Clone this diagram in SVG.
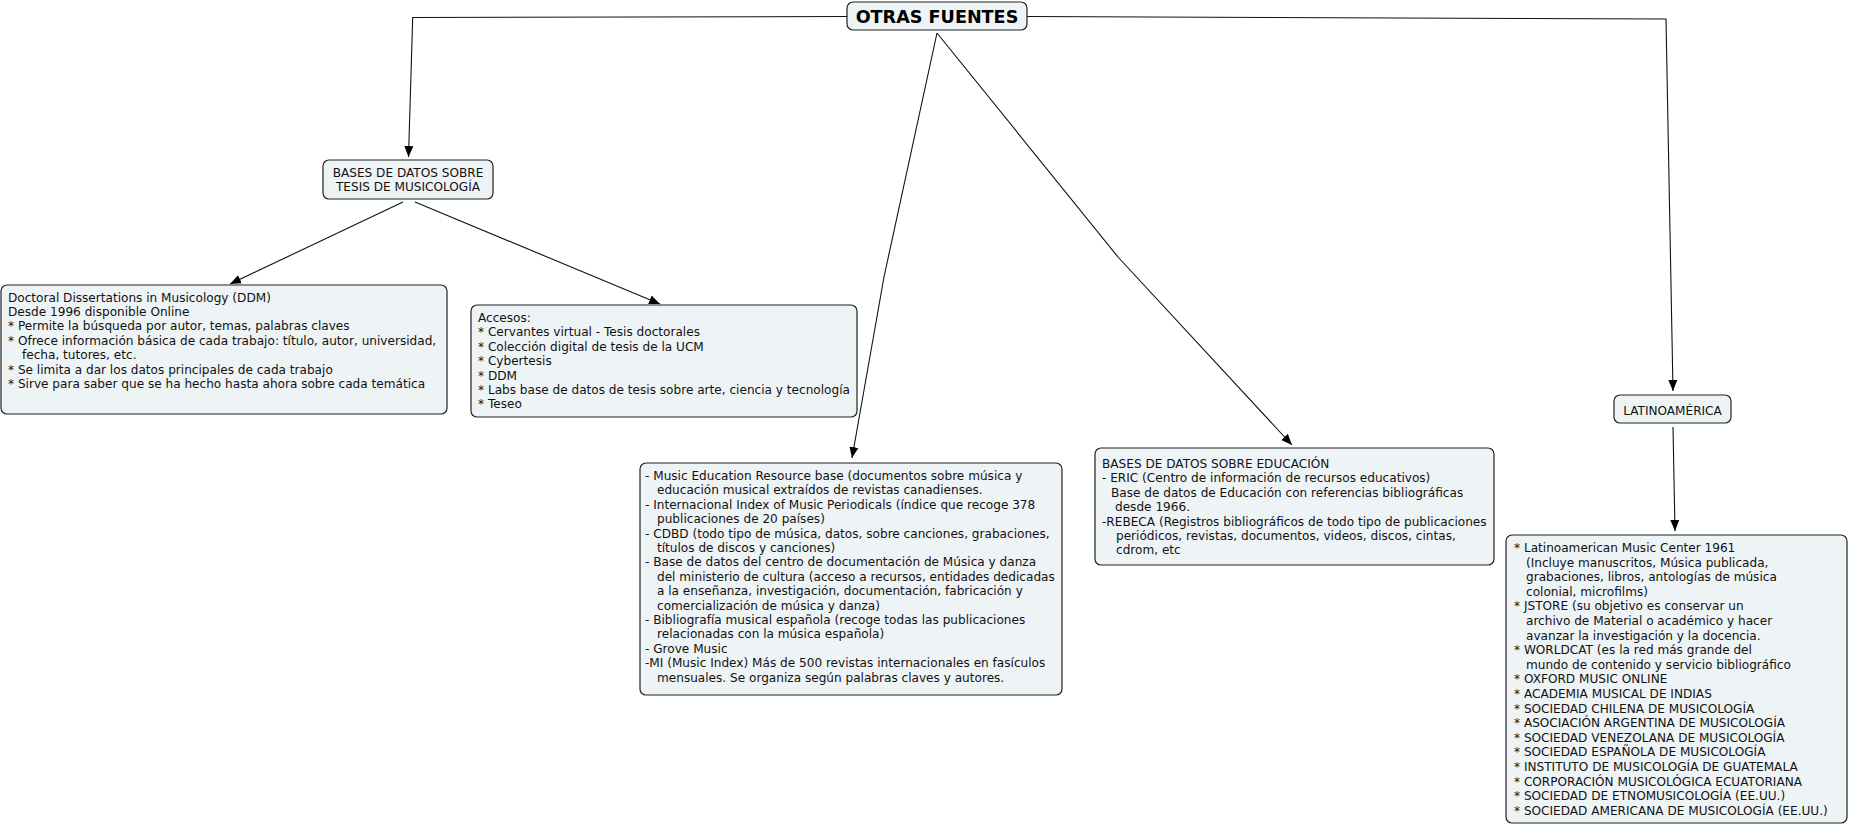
<svg xmlns="http://www.w3.org/2000/svg" width="1849" height="827" viewBox="0 0 1849 827">
<style>
.box{fill:#EEF4F6;stroke:#222;stroke-width:1.2}
.t{font-family:"DejaVu Sans",Verdana,sans-serif;font-size:12.1px;fill:#111}
.title{font-family:"DejaVu Sans",Verdana,sans-serif;font-size:17.6px;font-weight:bold;fill:#000}
.c{fill:none;stroke:#111;stroke-width:1.1}
</style>
<defs>
<marker id="ah" markerUnits="userSpaceOnUse" markerWidth="12" markerHeight="12" viewBox="0 0 12 12" refX="11" refY="6" orient="auto">
<path d="M0,1.5 L11,6 L0,10.5 Z" fill="#000"/>
</marker>
</defs>
<rect width="1849" height="827" fill="#fff"/>
<g id="connectors">
<path class="c" d="M847,16.5 L412.7,17.5 L408.5,157" marker-end="url(#ah)"/>
<path class="c" d="M403,202 L230,284" marker-end="url(#ah)"/>
<path class="c" d="M415,202 L660,304" marker-end="url(#ah)"/>
<path class="c" d="M937,33 L884,277 L852,458" marker-end="url(#ah)"/>
<path class="c" d="M937,33 L1118,257 L1292,445" marker-end="url(#ah)"/>
<path class="c" d="M1027,16.5 L1666,19 L1673,391" marker-end="url(#ah)"/>
<path class="c" d="M1673,427 L1675,531" marker-end="url(#ah)"/>
</g>
<g id="otras-fuentes">
<rect class="box" x="847" y="2" width="180" height="28" rx="6"/>
<text class="title" x="937" y="22.5" text-anchor="middle">OTRAS FUENTES</text>
</g>
<g id="bases-tesis">
<rect class="box" x="323" y="160" width="170" height="39" rx="6"/>
<text class="t" text-anchor="middle"><tspan x="408" y="177">BASES DE DATOS SOBRE</tspan><tspan x="408" y="191">TESIS DE MUSICOLOGÍA</tspan></text>
</g>
<g id="ddm">
<rect class="box" x="1" y="285" width="446" height="129" rx="6"/>
<text class="t">
<tspan x="8" y="301.5">Doctoral Dissertations in Musicology (DDM)</tspan>
<tspan x="8" y="315.9">Desde 1996 disponible Online</tspan>
<tspan x="8" y="330.3">* Permite la búsqueda por autor, temas, palabras claves</tspan>
<tspan x="8" y="344.7">* Ofrece información básica de cada trabajo: título, autor, universidad,</tspan>
<tspan x="22" y="359.1">fecha, tutores, etc.</tspan>
<tspan x="8" y="373.5">* Se limita a dar los datos principales de cada trabajo</tspan>
<tspan x="8" y="387.9">* Sirve para saber que se ha hecho hasta ahora sobre cada temática</tspan>
</text>
</g>
<g id="accesos">
<rect class="box" x="471" y="305" width="386" height="112" rx="6"/>
<text class="t">
<tspan x="478" y="322">Accesos:</tspan>
<tspan x="478" y="336.4">* Cervantes virtual - Tesis doctorales</tspan>
<tspan x="478" y="350.8">* Colección digital de tesis de la UCM</tspan>
<tspan x="478" y="365.2">* Cybertesis</tspan>
<tspan x="478" y="379.6">* DDM</tspan>
<tspan x="478" y="394">* Labs base de datos de tesis sobre arte, ciencia y tecnología</tspan>
<tspan x="478" y="408.4">* Teseo</tspan>
</text>
</g>
<g id="music">
<rect class="box" x="640" y="463" width="422" height="232" rx="6"/>
<text class="t">
<tspan x="645" y="480">- Music Education Resource base (documentos sobre música y</tspan>
<tspan x="657" y="494.4">educación musical extraídos de revistas canadienses.</tspan>
<tspan x="645" y="508.8">- Internacional Index of Music Periodicals (índice que recoge 378</tspan>
<tspan x="657" y="523.2">publicaciones de 20 países)</tspan>
<tspan x="645" y="537.6">- CDBD (todo tipo de música, datos, sobre canciones, grabaciones,</tspan>
<tspan x="657" y="552">títulos de discos y canciones)</tspan>
<tspan x="645" y="566.4">- Base de datos del centro de documentación de Música y danza</tspan>
<tspan x="657" y="580.8">del ministerio de cultura (acceso a recursos, entidades dedicadas</tspan>
<tspan x="657" y="595.2">a la enseñanza, investigación, documentación, fabricación y</tspan>
<tspan x="657" y="609.6">comercialización de música y danza)</tspan>
<tspan x="645" y="624">- Bibliografía musical española (recoge todas las publicaciones</tspan>
<tspan x="657" y="638.4">relacionadas con la música española)</tspan>
<tspan x="645" y="652.8">- Grove Music</tspan>
<tspan x="645" y="667.2">-MI (Music Index) Más de 500 revistas internacionales en fasículos</tspan>
<tspan x="657" y="681.6">mensuales. Se organiza según palabras claves y autores.</tspan>
</text>
</g>
<g id="educacion">
<rect class="box" x="1095" y="448" width="399" height="117" rx="6"/>
<text class="t">
<tspan x="1102" y="468">BASES DE DATOS SOBRE EDUCACIÓN</tspan>
<tspan x="1102" y="482.4">- ERIC (Centro de información de recursos educativos)</tspan>
<tspan x="1111" y="496.8">Base de datos de Educación con referencias bibliográficas</tspan>
<tspan x="1115" y="511.2">desde 1966.</tspan>
<tspan x="1102" y="525.6">-REBECA (Registros bibliográficos de todo tipo de publicaciones</tspan>
<tspan x="1116" y="540">periódicos, revistas, documentos, videos, discos, cintas,</tspan>
<tspan x="1116" y="554.4">cdrom, etc</tspan>
</text>
</g>
<g id="latinoamerica">
<rect class="box" x="1614" y="395" width="117" height="28" rx="6"/>
<text class="t" x="1672.5" y="415" text-anchor="middle">LATINOAMÉRICA</text>
</g>
<g id="latino-lista">
<rect class="box" x="1506" y="535" width="341" height="288" rx="6"/>
<text class="t">
<tspan x="1514" y="552">* Latinoamerican Music Center 1961</tspan>
<tspan x="1526" y="566.6">(Incluye manuscritos, Música publicada,</tspan>
<tspan x="1526" y="581.2">grabaciones, libros, antologías de música</tspan>
<tspan x="1526" y="595.8">colonial, microfilms)</tspan>
<tspan x="1514" y="610.4">* JSTORE (su objetivo es conservar un</tspan>
<tspan x="1526" y="625">archivo de Material o académico y hacer</tspan>
<tspan x="1526" y="639.6">avanzar la investigación y la docencia.</tspan>
<tspan x="1514" y="654.2">* WORLDCAT (es la red más grande del</tspan>
<tspan x="1526" y="668.8">mundo de contenido y servicio bibliográfico</tspan>
<tspan x="1514" y="683.4">* OXFORD MUSIC ONLINE</tspan>
<tspan x="1514" y="698">* ACADEMIA MUSICAL DE INDIAS</tspan>
<tspan x="1514" y="712.6">* SOCIEDAD CHILENA DE MUSICOLOGÍA</tspan>
<tspan x="1514" y="727.2">* ASOCIACIÓN ARGENTINA DE MUSICOLOGÍA</tspan>
<tspan x="1514" y="741.8">* SOCIEDAD VENEZOLANA DE MUSICOLOGÍA</tspan>
<tspan x="1514" y="756.4">* SOCIEDAD ESPAÑOLA DE MUSICOLOGÍA</tspan>
<tspan x="1514" y="771">* INSTITUTO DE MUSICOLOGÍA DE GUATEMALA</tspan>
<tspan x="1514" y="785.6">* CORPORACIÓN MUSICOLÓGICA ECUATORIANA</tspan>
<tspan x="1514" y="800.2">* SOCIEDAD DE ETNOMUSICOLOGÍA (EE.UU.)</tspan>
<tspan x="1514" y="814.8">* SOCIEDAD AMERICANA DE MUSICOLOGÍA (EE.UU.)</tspan>
</text>
</g>
</svg>
